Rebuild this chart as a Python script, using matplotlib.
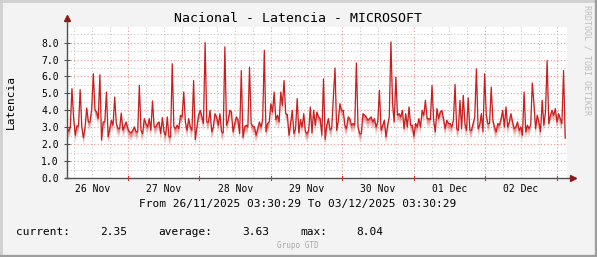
import numpy as np
import pandas as pd
import matplotlib
matplotlib.use("Agg")
import matplotlib.pyplot as plt
import matplotlib.dates as mdates
from matplotlib.lines import Line2D

# latency samples (ms), evenly spaced in time
latency = [
    3.02, 2.76, 3.02, 5.28, 3.61, 2.53, 3.08, 3.08, 5.22, 3.02,
    2.39, 3.02, 4.14, 3.31, 3.31, 4.04, 6.16, 4.04, 3.90, 3.51,
    6.10, 2.24, 3.31, 3.31, 5.08, 2.43, 2.92, 3.41, 3.12, 4.78,
    3.22, 2.92, 2.92, 3.84, 2.82, 3.10, 3.31, 2.92, 2.73, 2.67,
    2.82, 3.02, 2.73, 2.73, 5.47, 2.82, 2.63, 3.51, 3.22, 3.02,
    3.51, 2.82, 4.55, 3.02, 3.02, 3.22, 3.31, 2.63, 3.57, 2.73,
    2.53, 3.61, 2.43, 2.43, 6.75, 3.02, 2.92, 3.12, 2.92, 3.71,
    3.61, 5.08, 3.31, 2.82, 3.51, 3.02, 2.82, 5.76, 2.27, 3.02,
    3.71, 4.00, 3.65, 3.22, 8.00, 3.31, 3.31, 4.00, 2.73, 3.02,
    # 28 Nov - 30 Nov
    3.80, 3.61, 3.12, 3.80, 2.73, 2.67, 7.75, 3.12, 3.41, 4.00,
    3.90, 2.73, 3.22, 3.61, 3.45, 2.63, 6.35, 2.39, 3.02, 3.12,
    3.02, 6.55, 3.22, 3.06, 3.02, 2.53, 2.92, 3.31, 3.02, 3.45,
    7.55, 2.73, 3.22, 3.31, 4.39, 3.90, 5.08, 3.45, 3.71, 3.31,
    5.08, 4.29, 5.76, 3.80, 3.76, 2.53, 3.22, 4.00, 2.63, 2.92,
    4.69, 2.67, 3.45, 3.02, 3.80, 2.73, 2.63, 2.82, 4.20, 2.67,
    4.00, 3.12, 3.90, 3.61, 3.51, 2.53, 5.86, 2.27, 3.12, 3.51,
    2.86, 2.92, 4.80, 6.50, 2.82, 3.41, 4.39, 4.00, 4.00, 3.12,
    2.92, 3.61, 3.51, 3.12, 3.22, 3.12, 6.80, 3.02, 2.63, 2.63,
    3.80, 3.71, 3.61, 3.41, 3.51, 3.61, 3.31, 3.51, 3.02, 3.31,
    # 30 Nov - 03 Dec
    5.18, 2.82, 3.12, 3.41, 2.43, 3.12, 3.61, 8.04, 4.39, 3.31,
    5.96, 3.71, 3.80, 3.61, 4.00, 2.92, 3.80, 3.02, 4.20, 3.12,
    3.12, 2.47, 3.22, 3.02, 3.51, 3.02, 4.00, 3.71, 4.59, 3.51,
    3.51, 3.45, 5.47, 3.41, 2.73, 4.10, 3.51, 3.90, 4.00, 3.51,
    2.92, 3.41, 3.22, 3.22, 3.02, 3.41, 5.53, 2.92, 2.82, 4.59,
    2.92, 4.88, 3.22, 2.82, 4.74, 2.82, 2.82, 3.22, 3.61, 6.45,
    2.92, 3.12, 3.80, 2.73, 6.16, 3.71, 3.22, 3.22, 5.37, 3.41,
    3.02, 2.73, 3.22, 3.12, 3.51, 4.00, 3.02, 4.20, 3.02, 3.31,
    3.80, 3.31, 2.92, 3.02, 3.31, 2.82, 3.02, 2.53, 5.08, 2.73,
    3.12, 2.92, 3.12, 5.61, 4.39, 2.92, 3.71, 3.31, 2.73, 4.59,
    3.12, 3.90, 6.94, 3.22, 3.71, 4.00, 3.71, 4.10, 3.31, 3.80,
    3.51, 3.22, 6.35, 2.35,
]

start = pd.Timestamp("2025-11-26 03:30:29")
end = pd.Timestamp("2025-12-03 03:30:29")
last_sample = start + pd.Timedelta(hours=167.4)
times = pd.date_range(start, last_sample, periods=len(latency))

title = "Nacional - Latencia - MICROSOFT"
ylabel = "Latencia"
period = "From 26/11/2025 03:30:29 To 03/12/2025 03:30:29"
stats = [("current:", "2.35"), ("average:", "3.63"), ("max:", "8.04")]
footer = "Grupo GTD"
watermark = "RRDTOOL / TOBI OETIKER"

W, H = 597, 257
mono = "DejaVu Sans Mono"
line_col = "#C81E1E"
ytop = 8.92

fig = plt.figure(figsize=(W / 100, H / 100), dpi=100, facecolor="#F3F3F3")
ax = fig.add_axes([67 / W, (H - 178) / H, 500 / W, 151 / H])
ax.set_facecolor("white")

x0, x1 = mdates.date2num(start), mdates.date2num(end)
xnum = mdates.date2num(times)
ax.set_xlim(x0, x1)
ax.set_ylim(0, ytop)

# grid: gray every 6h / 0.5, red at midnight / whole units
for t in pd.date_range(start.ceil("6h"), end, freq="6h"):
    major = t.hour == 0
    ax.axvline(mdates.date2num(t), color="#F09090" if major else "#C8C8C8",
               ls=(0, (1, 2)), lw=0.8, zorder=1)
for v in np.arange(0.5, ytop, 0.5):
    major = float(v).is_integer()
    ax.axhline(v, color="#F09090" if major else "#C8C8C8",
               ls=(0, (1, 2)), lw=0.8, zorder=1)

# gradient under the line, fading out a short way below it
xs = np.linspace(x0, x1, 1500)
ys = np.linspace(0, ytop, 400)
line_y = np.interp(xs, xnum, latency, left=np.nan, right=np.nan)
dist = line_y[None, :] - ys[:, None]
grad = 0.55
alpha = np.clip(1 - dist / grad, 0, 1) * (dist >= 0) * 0.75
alpha = np.nan_to_num(alpha)
rgba = np.zeros((len(ys), len(xs), 4))
rgba[..., 0] = 0.82
rgba[..., 1] = 0.18
rgba[..., 2] = 0.18
rgba[..., 3] = alpha
ax.imshow(rgba, extent=[x0, x1, 0, ytop], origin="lower", aspect="auto",
          interpolation="bilinear", zorder=2)
ax.plot(xnum, latency, color=line_col, lw=0.9, zorder=3)

ax.set_xlim(x0, x1)
ax.set_ylim(0, ytop)

# axes with arrows
for s in ax.spines.values():
    s.set_visible(False)
ax.plot([0, 0], [0, 1.045], transform=ax.transAxes, color="#505050",
        lw=1, clip_on=False, zorder=4)
ax.plot([-0.004, 1.005], [0, 0], transform=ax.transAxes, color="#505050",
        lw=1, clip_on=False, zorder=4)
ax.plot([0], [1.06], transform=ax.transAxes, marker="^", ms=5,
        color="#8B1A1A", clip_on=False, zorder=5)
ax.plot([1.012], [0], transform=ax.transAxes, marker=">", ms=5,
        color="#8B1A1A", clip_on=False, zorder=5)

# ticks
ax.set_yticks(np.arange(0, 9, 1))
ax.set_yticklabels([f"{v:.1f}" for v in np.arange(0, 9, 1)],
                   family=mono, fontsize=7)
ax.tick_params(axis="y", direction="inout", length=4, width=0.8,
               color="#505050", pad=4)

noons = pd.date_range(start.normalize() + pd.Timedelta(hours=12), end, freq="1D")
ax.set_xticks(mdates.date2num(noons))
ax.set_xticklabels([t.strftime("%d %b") for t in noons], family=mono, fontsize=7)
ax.tick_params(axis="x", length=0, pad=4)
for t in pd.date_range(start.ceil("1D"), end, freq="1D"):
    ax.plot([mdates.date2num(t)] * 2, [-0.12, 0.12], color="#E03030",
            lw=0.8, clip_on=False, zorder=4)

# texts
fig.text(298 / W, 1 - 19 / H, title, family=mono, fontsize=9.5,
         ha="center", va="center")
fig.text(11 / W, 1 - 102 / H, ylabel, family=mono, fontsize=8,
         rotation=90, ha="center", va="center")
fig.text(298 / W, 1 - 204 / H, period, family=mono, fontsize=8,
         ha="center", va="center")
label_x = [16, 158, 300]
value_x = [127, 269, 383]
for (lab, val), lx, vx in zip(stats, label_x, value_x):
    fig.text(lx / W, 1 - 232 / H, lab, family=mono, fontsize=8,
             ha="left", va="center")
    fig.text(vx / W, 1 - 232 / H, val, family=mono, fontsize=8,
             ha="right", va="center")
fig.text(298 / W, 1 - 246 / H, footer, family=mono, fontsize=5.5,
         color="#A8A8A8", ha="center", va="center")
fig.text(587 / W, 1 - 5 / H, watermark, family=mono, fontsize=6,
         color="#BDBDBD", rotation=-90, ha="center", va="top")

# shaded frame around the canvas
fig.add_artist(Line2D([0, 1], [1 - 1 / H, 1 - 1 / H], transform=fig.transFigure,
                      color="#CFCFCF", lw=2))
fig.add_artist(Line2D([1 / W, 1 / W], [0, 1], transform=fig.transFigure,
                      color="#CFCFCF", lw=2))
fig.add_artist(Line2D([0, 1], [1.2 / H, 1.2 / H], transform=fig.transFigure,
                      color="#9E9E9E", lw=2.4))
fig.add_artist(Line2D([1 - 1.2 / W, 1 - 1.2 / W], [0, 1], transform=fig.transFigure,
                      color="#9E9E9E", lw=2.4))

fig.savefig("out.png", dpi=100, facecolor=fig.get_facecolor())
